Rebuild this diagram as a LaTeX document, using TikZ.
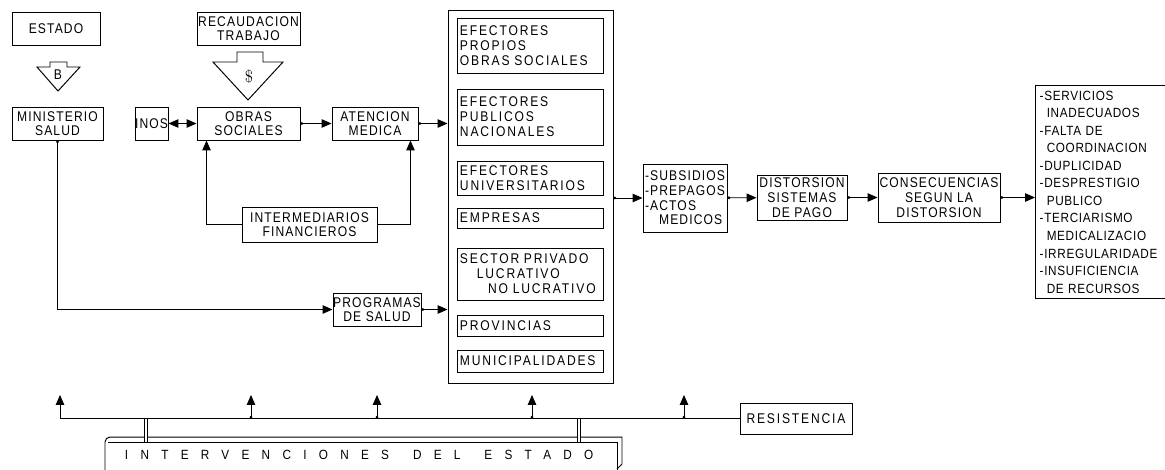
\documentclass[tikz,border=0pt]{standalone}
\usepackage{fontspec}
\newfontfamily\boxfont[LetterSpace=8,FakeStretch=0.86]{Liberation Sans}
\newfontfamily\efffont[LetterSpace=13,FakeStretch=0.86]{Liberation Sans}
\newfontfamily\listfont[LetterSpace=5,FakeStretch=0.88]{Liberation Sans}
\newfontfamily\wideletters[LetterSpace=92,FakeStretch=0.88]{Liberation Sans}
\usetikzlibrary{arrows.meta,positioning,calc}

\begin{document}
\begin{tikzpicture}[
  x=0.025cm, y=-0.025cm,
  >={Triangle[length=7pt,width=6pt]},
  every node/.style={font=\boxfont\fontsize{10}{10}\selectfont},
  box/.style={draw, line width=0.7pt, inner sep=0pt, align=center},
  wh/.style 2 args={minimum width=#1*0.025cm, minimum height=#2*0.025cm},
  sub/.style={box, text width=3.525cm, inner xsep=0.05cm, align=left,
    font=\efffont\fontsize{10}{10.7}\selectfont},
  conn/.style={line width=0.6pt, {Circle[length=2pt]}->},
  line/.style={line width=0.6pt},
]
\useasboundingbox (0,0) rectangle (1165,469);
\clip (0,0) rectangle (1165,469);

% Left column
\node[box, wh={88}{33}] (estado) at (56,28.5) {ESTADO};
\node[box, wh={91}{33}] (minis) at (57.5,123.5) {MINISTERIO\\SALUD};
\draw[line width=0.7pt] (37,67) -- (50,67) -- (50,62) -- (67,62) -- (67,67)
  -- (80,67) -- (58,91) -- cycle;
\node (bmark) at (58,75) {B};

% Obras sociales
\node[box, wh={103}{33}] (recaud) at (248.5,28.5) {RECAUDACION\\TRABAJO};
\draw[line width=0.7pt] (213,62) -- (237,62) -- (237,52) -- (263,52) -- (263,62)
  -- (283,62) -- (248,100) -- cycle;
\node[font=\fontsize{12}{12}\selectfont] (dollar) at (249,77) {\$};
\node[box, wh={33}{33}] (inos) at (151.5,123.5) {INOS};
\node[box, wh={103}{33}] (obras) at (248.5,123.5) {OBRAS\\SOCIALES};
\node[box, wh={86}{33}] (atenc) at (375,123.5) {ATENCION\\MEDICA};
\node[box, wh={135}{35}] (interm) at (309.5,224.5) {INTERMEDIARIOS\\FINANCIEROS};
\node[box, wh={88}{33}] (progr) at (377,309.5) {PROGRAMAS\\DE SALUD};

% Efectores
\node[box, wh={165}{373}] (efect) at (530.5,196.5) {};
\node[sub, minimum height=55*0.025cm] (propios) at (530.5,45.5)
  {EFECTORES\\PROPIOS\\OBRAS SOCIALES};
\node[sub, minimum height=56*0.025cm] (publicos) at (530.5,117)
  {EFECTORES\\PUBLICOS\\NACIONALES};
\node[sub, minimum height=34*0.025cm] (univ) at (530.5,178)
  {EFECTORES\\UNIVERSITARIOS};
\node[sub, minimum height=20*0.025cm] (empresas) at (530.5,218) {EMPRESAS};
\node[sub, minimum height=52*0.025cm] (privado) at (530.5,274)
  {SECTOR PRIVADO\\\hspace*{12pt}LUCRATIVO\\\hspace*{20pt}NO LUCRATIVO};
\node[sub, minimum height=21*0.025cm] (provin) at (530.5,325.5) {PROVINCIAS};
\node[sub, minimum height=22*0.025cm] (munic) at (530.5,361) {MUNICIPALIDADES};

% Chain to the right
\node[box, wh={84}{68}, align=left, font=\boxfont\fontsize{10}{10.5}\selectfont]
  (subs) at (685,198) {-SUBSIDIOS\\-PREPAGOS\\-ACTOS\\\hspace*{10pt}MEDICOS};
\node[box, wh={90}{45}, font=\boxfont\fontsize{10}{10.7}\selectfont]
  (dist) at (802,197.5) {DISTORSION\\SISTEMAS\\DE PAGO};
\node[box, wh={122}{49}, font=\boxfont\fontsize{10}{10.7}\selectfont]
  (cons) at (939,197.5) {CONSECUENCIAS\\SEGUN LA\\DISTORSION};
\node[box, anchor=north west, align=left, text width=4cm, inner xsep=3pt,
  inner ysep=4pt, font=\listfont\fontsize{9.5}{12.45}\selectfont]
  (resul) at (1035,85) {-SERVICIOS\\\hspace*{5pt}INADECUADOS\\-FALTA DE\\
  \hspace*{5pt}COORDINACION\\-DUPLICIDAD\\-DESPRESTIGIO\\\hspace*{5pt}PUBLICO\\
  -TERCIARISMO\\\hspace*{5pt}MEDICALIZACIO\\-IRREGULARIDADE\\-INSUFICIENCIA\\
  \hspace*{5pt}DE RECURSOS};

% Bottom
\node[box, wh={112}{31}, font=\efffont\fontsize{10}{10}\selectfont]
  (resist) at (796,418.5) {RESISTENCIA};
\node[anchor=west, font=\wideletters\fontsize{9.5}{10}\selectfont]
  (interv) at (120,455) {INTERVENCIONES\hspace{6pt} DEL\hspace{6pt} ESTADO};
\draw[line width=0.7pt] (105,480) -- (105,442) to[out=90,in=180] (110,437)
  -- (622,437) -- (622,464);
\draw[line width=0.7pt] (108,442) -- (617,442) -- (617,480);
\draw[line width=0.7pt] (617,469) -- (622,464);

% Connectors
\draw[conn] (minis.south) |- (progr.west);
\draw[line, <->] (inos) -- (obras);
\draw[conn] (obras) -- (atenc);
\draw[conn] (atenc.east) -- (atenc.east -| efect.west);
\draw[conn] (progr.east) -- (progr.east -| efect.west);
\draw[line, ->] (interm.west) -| ([xshift=0.25cm]obras.south west);
\draw[line, ->] (interm.east) -| ([xshift=-0.2cm]atenc.south east);
\draw[conn] (efect.east |- subs.west) -- (subs.west);
\draw[conn] (subs) -- (dist);
\draw[conn] (dist) -- (cons);
\draw[conn] (cons.east) -- (cons.east -| resul.west);

% Interventions
\coordinate (up0) at (60,395);
\draw[line, ->] (resist.west) -| (up0);
\foreach \x [count=\i] in {251,377,532,684} {
  \coordinate (up\i) at (\x,395);
  \draw[conn] (up\i |- resist.west) -- (up\i);
}
\foreach \x in {146,579}
  \draw[line, fill=white] (\x-1.5,418.5) rectangle (\x+1.5,442);
\end{tikzpicture}
\end{document}
